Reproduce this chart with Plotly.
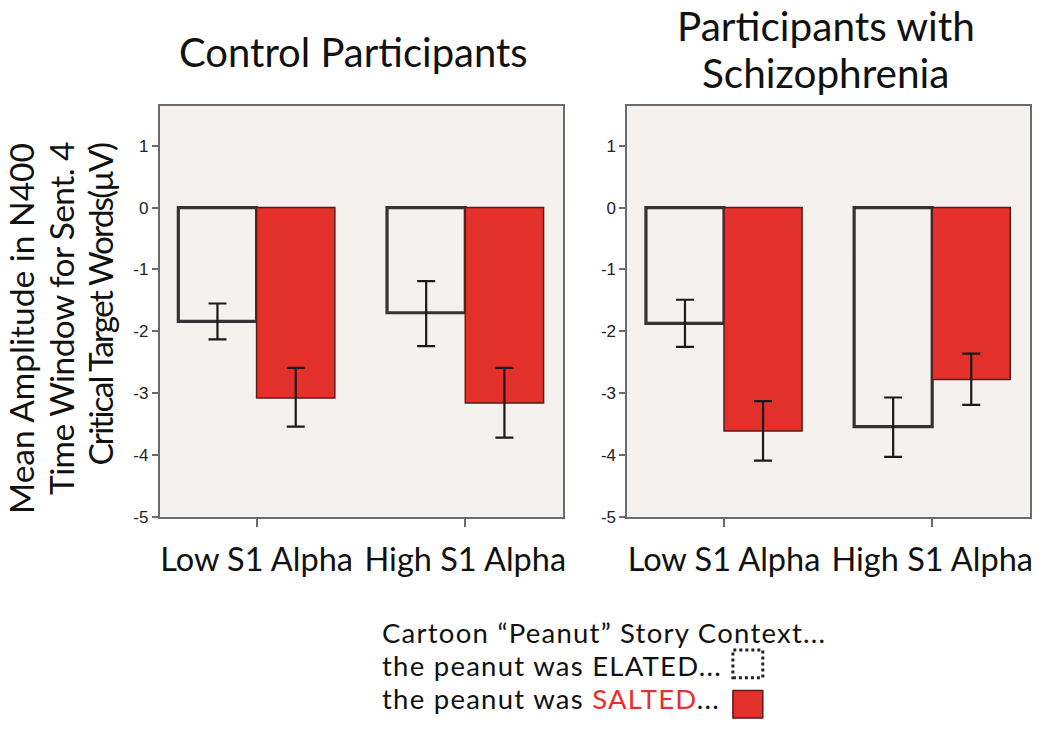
import plotly.graph_objects as go

# ---------------- data ----------------
categories = ["Low S1 Alpha", "High S1 Alpha"]
y_ticks = [1, 0, -1, -2, -3, -4, -5]

ctrl_elated = [-1.84, -1.70]
ctrl_elated_err_up = [0.29, 0.51]
ctrl_elated_err_dn = [0.29, 0.54]
ctrl_salted = [-3.08, -3.16]
ctrl_salted_err_up = [0.49, 0.57]
ctrl_salted_err_dn = [0.46, 0.56]

sz_elated = [-1.87, -3.54]
sz_elated_err_up = [0.38, 0.47]
sz_elated_err_dn = [0.38, 0.49]
sz_salted = [-3.61, -2.78]
sz_salted_err_up = [0.48, 0.42]
sz_salted_err_dn = [0.48, 0.41]

left_title = "Control Participants"
right_title_lines = ["Participants with", "Schizophrenia"]
y_label_lines = ["Mean Amplitude in N400", "Time Window for Sent. 4", "Critical Target Words(\u00b5V)"]
# legend lines as (text, colour) pieces
legend_lines = [
    [("Cartoon \u201cPeanut\u201d Story Context...", "#111111")],
    [("the peanut was ELATED...", "#111111")],
    [("the peanut was ", "#111111"), ("SALTED", "#e5302b"), ("...", "#111111")],
]

# ---------------- styles ----------------
W, H = 1050, 736
BG = "#f4f1ef"
RED = "#e3302b"
RED_LINE = "#5a1d1a"
EL_LINE = "#333333"
ERR = "#1a1a1a"
LABEL_FONT = "Lato"
TICK_FONT = "Liberation Sans"


def px(x):
    return x / W


def py(y):
    return 1 - y / H


fig = go.Figure()


def add_panel(elated, el_up, el_dn, salted, sa_up, sa_dn, xa, ya):
    fig.add_trace(go.Bar(
        x=categories, y=elated, xaxis=xa, yaxis=ya, showlegend=False,
        marker=dict(color="rgba(0,0,0,0)", line=dict(color=EL_LINE, width=3.2)),
        error_y=dict(type="data", array=el_up, arrayminus=el_dn, symmetric=False,
                     color=ERR, thickness=2.2, width=9),
    ))
    fig.add_trace(go.Bar(
        x=categories, y=salted, xaxis=xa, yaxis=ya, showlegend=False,
        marker=dict(color=RED, line=dict(color=RED_LINE, width=1.5)),
        error_y=dict(type="data", array=sa_up, arrayminus=sa_dn, symmetric=False,
                     color=ERR, thickness=2.2, width=9),
    ))


add_panel(ctrl_elated, ctrl_elated_err_up, ctrl_elated_err_dn,
          ctrl_salted, ctrl_salted_err_up, ctrl_salted_err_dn, "x", "y")
add_panel(sz_elated, sz_elated_err_up, sz_elated_err_dn,
          sz_salted, sz_salted_err_up, sz_salted_err_dn, "x2", "y2")

xaxis_common = dict(
    type="category", range=[-0.465, 1.47], showline=True, mirror=True,
    linecolor="#6b6b6b", linewidth=1.5, ticks="outside", ticklen=8, tickwidth=1.5,
    tickcolor="#6b6b6b", showgrid=False, zeroline=False, ticklabelstandoff=5,
    tickfont=dict(family=LABEL_FONT, size=32.5, color="#111"),
)
yaxis_common = dict(
    range=[-5, 1.65], tickvals=y_ticks, ticktext=[str(v) for v in y_ticks],
    showline=True, mirror=True, linecolor="#6b6b6b", linewidth=1.5,
    ticks="outside", ticklen=6, tickwidth=1.5, tickcolor="#6b6b6b",
    showgrid=False, zeroline=False,
    tickfont=dict(family=TICK_FONT, size=17, color="#222"),
)

y_dom = [py(524), py(107)]
fig.update_layout(
    width=W, height=H,
    margin=dict(l=0, r=0, t=0, b=0),
    paper_bgcolor="white", plot_bgcolor=BG,
    barmode="group", bargap=0.25, bargroupgap=0,
    xaxis=dict(domain=[px(160), px(565)], anchor="y", **xaxis_common),
    yaxis=dict(domain=y_dom, anchor="x", **yaxis_common),
    xaxis2=dict(domain=[px(629), px(1033)], anchor="y2", **xaxis_common),
    yaxis2=dict(domain=y_dom, anchor="x2", **yaxis_common),
)

annotations = []
# panel titles
annotations.append(dict(text=left_title, x=px(355), y=py(53), xref="paper", yref="paper",
                        xanchor="center", yanchor="middle", showarrow=False,
                        font=dict(family=LABEL_FONT, size=40, color="#111")))
for txt, cy in zip(right_title_lines, [26, 74]):
    annotations.append(dict(text=txt, x=px(828), y=py(cy), xref="paper", yref="paper",
                            xanchor="center", yanchor="middle", showarrow=False,
                            font=dict(family=LABEL_FONT, size=40.5, color="#111")))
# y axis label lines
for txt, cx, cy, ls in zip(y_label_lines, [21, 60.5, 100.5], [332.5, 323, 308.5], [0, -0.6, -1.9]):
    annotations.append(dict(text="<span style='letter-spacing:%spx'>%s</span>" % (ls, txt),
                            x=px(cx), y=py(cy), xref="paper", yref="paper",
                            xanchor="center", yanchor="middle", showarrow=False, textangle=-90,
                            font=dict(family=LABEL_FONT, size=33.5, color="#111")))
# legend text
for pieces, cy in zip(legend_lines, [641, 674.5, 708]):
    txt = "".join(
        "<span style='color:%s;letter-spacing:1.25px'>%s</span>" % (col, t) for t, col in pieces
    )
    annotations.append(dict(text=txt, x=px(381), y=py(cy), xref="paper", yref="paper",
                            xanchor="left", yanchor="middle", showarrow=False,
                            font=dict(family=LABEL_FONT, size=27.5, color="#111")))
fig.update_layout(annotations=annotations)

# legend swatches
fig.add_shape(type="rect", xref="paper", yref="paper",
              x0=px(735), x1=px(765), y0=py(687), y1=py(659),
              line=dict(color="#222", width=3, dash="dot"), fillcolor="white")
fig.add_shape(type="rect", xref="paper", yref="paper",
              x0=px(735), x1=px(765), y0=py(728), y1=py(700),
              line=dict(color=RED_LINE, width=1.5), fillcolor=RED)

fig.write_html("out.html", config={"displayModeBar": False},
               post_script="document.body.style.margin='0';document.body.style.overflow='hidden';")
